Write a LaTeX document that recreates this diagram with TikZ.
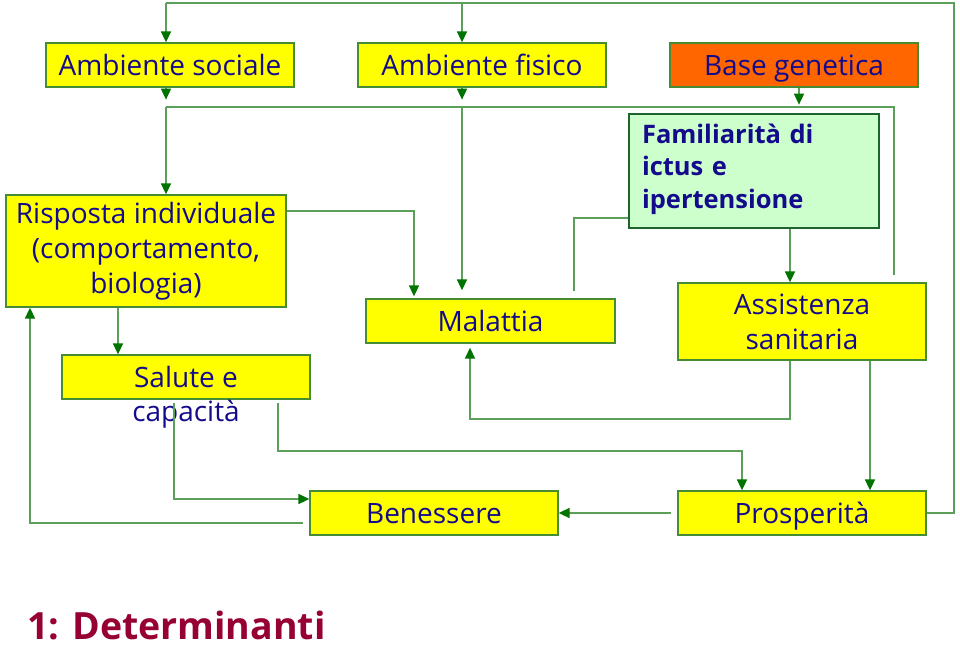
\documentclass[tikz,border=0pt]{standalone}
\usepackage{fontspec}
\setmainfont{Open Sans}
\usetikzlibrary{arrows.meta,calc}
\definecolor{txtblue}{RGB}{20,10,140}
\definecolor{boxyellow}{RGB}{255,255,0}
\definecolor{boxorange}{RGB}{255,102,0}
\definecolor{boxmint}{RGB}{204,255,204}
\definecolor{edgegreen}{RGB}{70,140,50}
\definecolor{darkedge}{RGB}{30,100,45}
\definecolor{linegreen}{RGB}{90,160,90}
\definecolor{tipgreen}{RGB}{0,115,0}
\definecolor{maroon}{RGB}{150,0,50}
\tikzset{
  box/.style={draw=edgegreen, fill=boxyellow, line width=1.3pt, rectangle,
    inner sep=0pt, minimum width=248pt, minimum height=44pt,
    text=txtblue, font=\fontsize{28}{35}\selectfont, align=center},
  onel/.style={text height=20pt, text depth=0pt},
  conn/.style={draw=linegreen, line width=1.6pt},
  arr/.style={conn, -{Triangle[length=11pt,width=10pt,color=tipgreen,fill=tipgreen]}},
}
\begin{document}
\begin{tikzpicture}[x=1pt,y=-1pt]
\useasboundingbox (0,0) rectangle (960,648);
% boxes
\node[box,onel] (soc) at (170,65) {Ambiente sociale};
\node[box,onel] (fis) at (482,65) {Ambiente fisico};
\node[box,onel, fill=boxorange] (gen) at (794,65) {Base genetica};
\node[box, fill=boxmint, draw=darkedge, line width=2.6pt, minimum width=250pt,
  minimum height=114pt, text width=224pt, align=left, text height=29pt, text depth=85pt,
  font=\bfseries\fontsize{25.5}{32.5}\selectfont]
  (fam) at (754,171) {Familiarità di\\ictus e\\ipertensione};
\node[box, minimum width=280pt, minimum height=112pt] (ris) at (146,251)
  {Risposta individuale\\(comportamento,\\biologia)};
\node[box,onel, minimum width=249pt] (mal) at (490.5,321) {Malattia};
\node[box, minimum height=77pt] (ass) at (802,321.5) {Assistenza\\sanitaria};
\node[box,onel] (sal) at (186,377) {Salute e};
\node[text=txtblue, font=\fontsize{28}{35}\selectfont, inner sep=0pt, anchor=base] (salc) at (186,421) {capacità};
\node[box,onel] (ben) at (434,513) {Benessere};
\node[box,onel] (pro) at (802,513) {Prosperità};
\node[text=maroon, font=\bfseries\fontsize{37.5}{40}\selectfont, inner sep=0pt, anchor=base west] (title) at (27,639) {1: Determinanti};
% coordinates
\coordinate (tr) at (954,3);
\coordinate (tl) at (166,3);
\coordinate (tf) at (462,3);
\coordinate (bl) at (166,107);
\coordinate (br) at (894,107);
\coordinate (brend) at (894,275);
\coordinate (bm) at (462,107);
% top loop
\draw[conn] (pro.east) -| (tr) -- (tl);
\draw[arr] (tl) -- (soc.north -| tl);
\draw[arr] (tf) -- (fis.north -| tf);
% short arrows below top boxes
\draw[arr] (soc.south -| tl) -- ++(0,12);
\draw[arr] (fis.south -| tf) -- ++(0,12);
\coordinate (gx) at (799,0);
\draw[arr] (gen.south -| gx) -- ++(0,17);
% bus
\draw[conn] (bl) -- (br) -- (brend);
\draw[arr] (bl) -- (ris.north -| bl);
\draw[arr] (bm) -- ($(mal.north -| bm)+(0,-8)$);
% Risposta -> Malattia
\coordinate (rm) at (414,211);
\draw[arr] (ris.east |- rm) -- (rm) -- ($(mal.north -| rm)+(0,-2)$);
% Risposta -> Salute
\coordinate (rs) at (118,0);
\draw[arr] (ris.south -| rs) -- (sal.north -| rs);
% Benessere -> Risposta
\coordinate (bw) at (303,523);
\coordinate (bwl) at (30,523);
\draw[arr] (bw) -- (bwl) -- (ris.south -| bwl);
% Salute -> Benessere
\coordinate (s1) at (174,403);
\coordinate (s1b) at (174,499);
\draw[arr] (s1) -- (s1b) -- (ben.west |- s1b);
% Salute -> Prosperita
\coordinate (s2) at (278,403);
\coordinate (s2b) at (278,451);
\coordinate (p1) at (742,451);
\draw[arr] (s2) -- (s2b) -- (p1) -- (pro.north -| p1);
% Assistenza -> Malattia
\coordinate (a1) at (790,419);
\coordinate (a1l) at (470,419);
\draw[arr] (ass.south -| a1) -- (a1) -- (a1l) -- ($(mal.south -| a1l)+(0,4)$);
% Assistenza -> Prosperita
\coordinate (a2) at (870,0);
\draw[arr] (ass.south -| a2) -- (pro.north -| a2);
% Prosperita -> Benessere
\coordinate (pw) at (671,513);
\draw[arr] (pw) -- (ben.east);
% Familiarita -> (Malattia)
\coordinate (f1) at (574,218);
\coordinate (f1b) at (574,291);
\draw[conn] (fam.west |- f1) -- (f1) -- (f1b);
% Familiarita -> Assistenza
\coordinate (f2) at (790,0);
\draw[arr] (fam.south -| f2) -- (ass.north -| f2);
\end{tikzpicture}
\end{document}
